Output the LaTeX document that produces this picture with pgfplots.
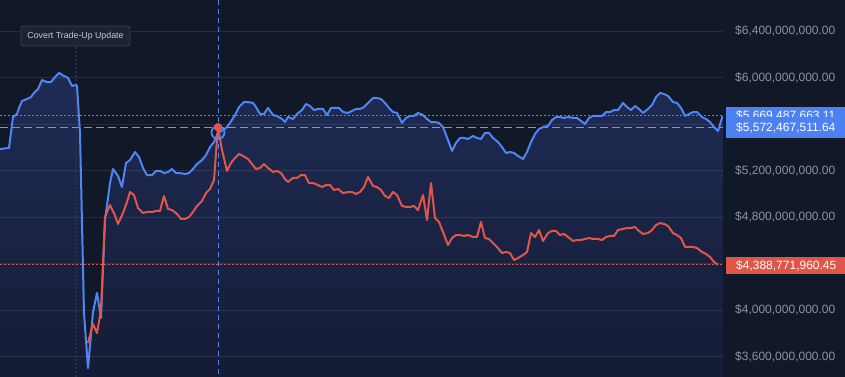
\documentclass[border=0pt]{standalone}
\usepackage{fontspec}
\setmainfont{Liberation Sans}
\usepackage{pgfplots}
\pgfplotsset{compat=1.18}
\usepackage{pgfplotstable}

\definecolor{bg}{HTML}{111827}
\definecolor{blueline}{HTML}{4F86F2}
\definecolor{redline}{HTML}{E0574A}
\definecolor{fillTop}{HTML}{1F2B55}
\definecolor{fillBot}{HTML}{151C35}
\definecolor{ticklab}{HTML}{8A92A5}
\definecolor{boxblue}{HTML}{4D80F0}
\definecolor{boxred}{HTML}{DF5548}
\definecolor{annofill}{HTML}{1C2333}
\definecolor{annodraw}{HTML}{394154}
\definecolor{annotext}{HTML}{C5CAD5}
\definecolor{vgray}{HTML}{283046}

\pgfplotstableread{
x y
0 5.385
9 5.394
13 5.660
17 5.686
19 5.738
22 5.798
27 5.815
31 5.832
34 5.867
38 5.901
42 5.978
47 5.961
51 5.961
55 6.004
59 6.039
64 6.013
68 5.996
72 5.927
76 5.935
77 5.927
80 5.523
84 3.974
88 3.501
93 3.983
97 4.146
101 3.931
105 4.774
110 5.092
113 5.213
118 5.153
122 5.058
126 5.265
130 5.290
135 5.359
139 5.316
143 5.222
147 5.161
152 5.161
156 5.196
160 5.196
164 5.178
168 5.187
172 5.213
176 5.178
180 5.178
185 5.170
189 5.178
193 5.213
197 5.256
202 5.290
206 5.333
210 5.402
214 5.445
218 5.523
223 5.548
227 5.574
230 5.609
235 5.677
239 5.746
244 5.789
248 5.789
253 5.781
256 5.746
260 5.686
264 5.686
268 5.738
273 5.677
277 5.669
282 5.643
285 5.617
288 5.660
293 5.643
297 5.686
302 5.720
306 5.772
310 5.755
314 5.720
318 5.729
323 5.729
327 5.677
331 5.738
335 5.738
339 5.738
343 5.703
348 5.695
352 5.712
356 5.729
360 5.729
364 5.746
368 5.781
373 5.824
377 5.824
381 5.815
385 5.781
389 5.738
393 5.703
397 5.695
402 5.609
406 5.652
410 5.669
414 5.669
418 5.695
423 5.677
427 5.643
431 5.617
435 5.617
439 5.609
443 5.574
448 5.462
452 5.368
456 5.437
460 5.480
464 5.480
468 5.471
473 5.497
477 5.480
481 5.471
485 5.523
489 5.523
493 5.480
498 5.445
502 5.402
506 5.351
510 5.359
514 5.351
518 5.325
523 5.299
527 5.359
531 5.445
535 5.514
539 5.557
543 5.574
548 5.583
552 5.634
556 5.660
560 5.660
564 5.652
568 5.660
573 5.652
577 5.652
581 5.626
585 5.600
589 5.652
593 5.669
598 5.669
602 5.669
606 5.703
610 5.703
614 5.720
618 5.720
623 5.781
627 5.746
631 5.720
635 5.755
639 5.729
643 5.695
648 5.729
652 5.763
656 5.832
660 5.867
664 5.858
668 5.841
673 5.789
677 5.781
681 5.738
685 5.669
689 5.686
693 5.703
697 5.703
702 5.660
706 5.643
710 5.617
714 5.574
718 5.540
722 5.652
723 5.6695
}\bluedata

\pgfplotstableread{
x y
88 3.716
93 3.880
97 3.802
101 4.000
105 4.800
110 4.903
114 4.834
118 4.740
123 4.834
127 4.929
130 5.015
134 4.989
138 4.877
143 4.834
147 4.843
152 4.843
156 4.852
160 4.852
164 4.981
168 4.869
172 4.860
177 4.826
181 4.783
185 4.783
189 4.800
193 4.843
197 4.895
202 4.938
206 5.006
210 5.041
214 5.118
216 5.351
218 5.5725
222 5.376
227 5.196
231 5.265
235 5.308
239 5.342
243 5.325
248 5.299
252 5.256
256 5.213
260 5.222
264 5.256
268 5.222
273 5.187
277 5.196
281 5.178
285 5.127
288 5.101
293 5.136
297 5.136
301 5.161
305 5.161
309 5.092
313 5.092
318 5.075
322 5.058
326 5.075
330 5.075
334 5.032
338 5.041
343 5.006
348 5.015
352 5.015
356 4.998
360 5.015
364 5.058
368 5.144
373 5.067
377 5.058
381 5.032
385 4.981
389 4.963
393 5.015
397 4.989
402 4.895
406 4.886
410 4.886
414 4.895
418 4.860
423 4.989
427 4.774
431 5.092
435 4.791
439 4.757
443 4.671
448 4.559
452 4.619
456 4.645
460 4.645
464 4.637
468 4.645
473 4.628
477 4.628
481 4.757
485 4.619
489 4.611
493 4.576
498 4.533
502 4.490
506 4.499
510 4.490
514 4.430
518 4.447
523 4.473
527 4.499
531 4.662
535 4.628
539 4.688
543 4.594
548 4.662
552 4.680
556 4.680
560 4.645
564 4.654
568 4.628
573 4.594
577 4.602
581 4.602
585 4.611
589 4.619
593 4.611
598 4.611
602 4.602
606 4.628
610 4.637
614 4.637
618 4.688
623 4.697
627 4.705
631 4.705
635 4.714
639 4.680
643 4.654
648 4.662
652 4.688
656 4.731
660 4.748
664 4.740
668 4.723
673 4.662
677 4.645
681 4.619
685 4.542
689 4.542
693 4.542
697 4.533
702 4.499
706 4.482
710 4.456
714 4.413
718 4.3888
}\reddata

\begin{document}
\begin{tikzpicture}
\fill[bg] (0,0) rectangle (845bp,377bp);
\begin{axis}[
  at={(0,0)}, anchor=south west,
  scale only axis, width=723bp, height=377bp,
  xmin=0, xmax=723, ymin=3.42366, ymax=6.66667,
  axis line style={draw=none},
  xtick=\empty,
  ytick={3.6,4.0,4.4,4.8,5.2,5.6,6.0,6.4},
  yticklabels={{\$3,600,000,000.00},{\$4,000,000,000.00},{},{\$4,800,000,000.00},{\$5,200,000,000.00},{},{\$6,000,000,000.00},{\$6,400,000,000.00}},
  yticklabel pos=right,
  major tick length=0pt,
  yticklabel style={anchor=west, inner sep=0pt, xshift=12bp, font=\fontsize{12bp}{14bp}\selectfont, text=ticklab},
  clip=true,
]
% area under the blue series
\addplot[draw=none, top color=fillTop, bottom color=fillBot, forget plot] table[x=x,y=y] {\bluedata} -- (axis cs:723,3.42366) -- (axis cs:0,3.42366) -- cycle;
% grid lines
\pgfplotsinvokeforeach{3.6,4.0,4.4,4.8,5.2,5.6,6.0,6.4}{
  \draw[white, draw opacity=0.09, line width=0.8bp] (axis cs:0,#1) -- (axis cs:723,#1);
}
% vertical markers
\addplot[vgray, line width=2bp, dash pattern=on 2bp off 2bp, forget plot] coordinates {(76,6.262) (76,3.42366)};
\addplot[blueline, line width=1bp, dash pattern=on 5bp off 4bp, forget plot] coordinates {(218,6.66667) (218,3.42366)};
% horizontal price lines
\addplot[blueline, line width=1bp, dash pattern=on 2bp off 2bp, forget plot] coordinates {(0,5.669487663) (723,5.669487663)};
\addplot[blueline!85!white, line width=1bp, dash pattern=on 8bp off 4bp, forget plot] coordinates {(0,5.572467512) (723,5.572467512)};
\addplot[redline, line width=1bp, dash pattern=on 2bp off 2bp, forget plot] coordinates {(0,4.388771960) (723,4.388771960)};
% series
\addplot[blueline, line width=2bp, line join=round, forget plot] table[x=x,y=y] {\bluedata};
\addplot[redline, line width=2bp, line join=round, forget plot] table[x=x,y=y] {\reddata};
% hover markers
\addplot[only marks, mark=o, mark size=6.5bp, mark options={draw=blueline, line width=1.8bp}, forget plot] coordinates {(218,5.527)};
\addplot[only marks, mark=*, mark size=4bp, mark options={draw=redline, fill=redline}, forget plot] coordinates {(218,5.5725)};
\end{axis}
% annotation
\node[draw=annodraw, fill=annofill, rounded corners=2.5bp, line width=0.8bp, minimum width=109bp, minimum height=20bp, inner sep=0pt, text=annotext, font=\fontsize{8.8bp}{10bp}\selectfont] at (75.5bp,341bp) {Covert Trade-Up Update};
% price labels
\fill[boxblue] (726bp,252bp) rectangle (845bp,270bp);
\node[anchor=west, inner sep=0pt, text=white, font=\fontsize{12bp}{14bp}\selectfont] at (736bp,261bp) {\$5,669,487,663.11};
\fill[boxblue] (726bp,239bp) rectangle (845bp,260.3bp);
\node[anchor=west, inner sep=0pt, text=white, font=\fontsize{12bp}{14bp}\selectfont] at (736bp,249bp) {\$5,572,467,511.64};
\fill[boxred] (726bp,103bp) rectangle (845bp,120bp);
\node[anchor=west, inner sep=0pt, text=white, font=\fontsize{12bp}{14bp}\selectfont] at (736bp,111.5bp) {\$4,388,771,960.45};
\pgfresetboundingbox
\useasboundingbox (0,0) rectangle (845bp,377bp);
\end{tikzpicture}
\end{document}
